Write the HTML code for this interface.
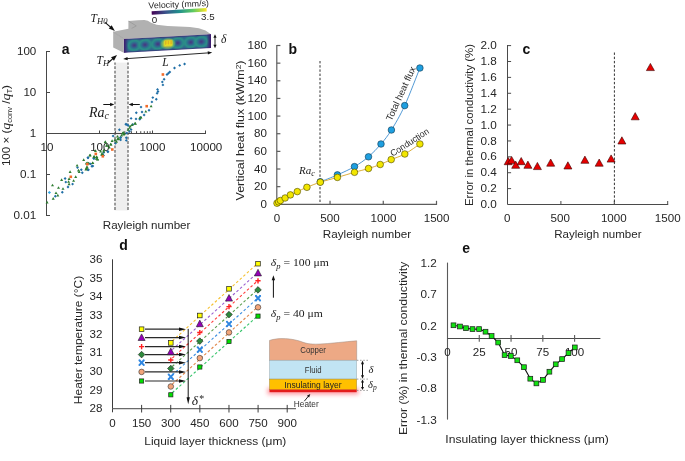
<!DOCTYPE html>
<html><head><meta charset="utf-8"><style>
html,body{margin:0;padding:0;background:#fff;}
svg{display:block;font-family:"Liberation Sans",sans-serif;will-change:transform;}
</style></head><body>
<svg width="685" height="461" viewBox="0 0 685 461">
<defs><radialGradient id="vc" cx="0.5" cy="0.5" r="0.5"><stop offset="0" stop-color="#482f7c"/><stop offset="0.18" stop-color="#3e4a89"/><stop offset="0.42" stop-color="#2c728e"/><stop offset="0.68" stop-color="#2a9486"/><stop offset="1" stop-color="#2f7a8c" stop-opacity="0"/></radialGradient><radialGradient id="vy" cx="0.5" cy="0.5" r="0.5"><stop offset="0" stop-color="#f8e620"/><stop offset="0.55" stop-color="#e8e22a"/><stop offset="0.8" stop-color="#7cc860" stop-opacity="0.8"/><stop offset="1" stop-color="#2a9a88" stop-opacity="0"/></radialGradient><filter id="vblur" x="-30%" y="-30%" width="160%" height="160%"><feGaussianBlur stdDeviation="0.6"/></filter><linearGradient id="vedge" x1="0" y1="0" x2="0" y2="1"><stop offset="0" stop-color="#40106a" stop-opacity="0.95"/><stop offset="0.18" stop-color="#40106a" stop-opacity="0"/><stop offset="0.82" stop-color="#40106a" stop-opacity="0"/><stop offset="1" stop-color="#40106a" stop-opacity="0.95"/></linearGradient><linearGradient id="vedgex" x1="0" y1="0" x2="1" y2="0"><stop offset="0" stop-color="#40106a" stop-opacity="0.95"/><stop offset="0.05" stop-color="#40106a" stop-opacity="0"/><stop offset="0.95" stop-color="#40106a" stop-opacity="0"/><stop offset="1" stop-color="#40106a" stop-opacity="0.95"/></linearGradient><clipPath id="ffclip"><polygon points="123.8,38.9 211.0,34.2 211.0,47.9 123.8,52.8"/></clipPath><linearGradient id="cb" x1="0" y1="0" x2="1" y2="0"><stop offset="0" stop-color="#440154"/><stop offset="0.25" stop-color="#3b528b"/><stop offset="0.5" stop-color="#21908d"/><stop offset="0.75" stop-color="#5dc963"/><stop offset="1" stop-color="#fde725"/></linearGradient><filter id="glow" x="-20%" y="-300%" width="140%" height="700%"><feGaussianBlur stdDeviation="2.0"/></filter></defs>
<rect width="685" height="461" fill="#fff"/>
<rect x="114.6" y="62.6" width="13.6" height="147.9" fill="#efefef"/>
<line x1="115.00" y1="62.60" x2="115.00" y2="210.50" stroke="#6a6a6a" stroke-width="1.3" stroke-dasharray="2.8,1.6" stroke-dashoffset="0.7"/>
<line x1="128.00" y1="62.60" x2="128.00" y2="210.50" stroke="#6a6a6a" stroke-width="1.3" stroke-dasharray="2.8,1.6" stroke-dashoffset="0.7"/>
<line x1="46.50" y1="51.00" x2="46.50" y2="216.00" stroke="#474747" stroke-width="1"/>
<line x1="46.00" y1="51.50" x2="50.00" y2="51.50" stroke="#474747" stroke-width="1"/>
<line x1="46.00" y1="92.50" x2="50.00" y2="92.50" stroke="#474747" stroke-width="1"/>
<line x1="46.00" y1="133.50" x2="50.00" y2="133.50" stroke="#474747" stroke-width="1"/>
<line x1="46.00" y1="174.50" x2="50.00" y2="174.50" stroke="#474747" stroke-width="1"/>
<line x1="46.00" y1="215.50" x2="50.00" y2="215.50" stroke="#474747" stroke-width="1"/>
<line x1="46.00" y1="133.50" x2="206.00" y2="133.50" stroke="#474747" stroke-width="1"/>
<line x1="99.50" y1="133.50" x2="99.50" y2="130.50" stroke="#474747" stroke-width="1"/>
<line x1="152.50" y1="133.50" x2="152.50" y2="130.50" stroke="#474747" stroke-width="1"/>
<line x1="205.50" y1="133.50" x2="205.50" y2="130.50" stroke="#474747" stroke-width="1"/>
<line x1="115.45" y1="133.50" x2="115.45" y2="131.20" stroke="#474747" stroke-width="1"/>
<line x1="124.79" y1="133.50" x2="124.79" y2="131.20" stroke="#474747" stroke-width="1"/>
<line x1="131.41" y1="133.50" x2="131.41" y2="131.20" stroke="#474747" stroke-width="1"/>
<line x1="136.55" y1="133.50" x2="136.55" y2="131.20" stroke="#474747" stroke-width="1"/>
<line x1="140.74" y1="133.50" x2="140.74" y2="131.20" stroke="#474747" stroke-width="1"/>
<line x1="144.29" y1="133.50" x2="144.29" y2="131.20" stroke="#474747" stroke-width="1"/>
<line x1="147.36" y1="133.50" x2="147.36" y2="131.20" stroke="#474747" stroke-width="1"/>
<line x1="150.07" y1="133.50" x2="150.07" y2="131.20" stroke="#474747" stroke-width="1"/>
<text x="36.30" y="55.25" font-size="10.6" text-anchor="end" fill="#262626" textLength="19.35" lengthAdjust="spacingAndGlyphs">100</text>
<text x="36.30" y="96.15" font-size="10.6" text-anchor="end" fill="#262626" textLength="12.90" lengthAdjust="spacingAndGlyphs">10</text>
<text x="36.30" y="137.05" font-size="10.6" text-anchor="end" fill="#262626" textLength="6.45" lengthAdjust="spacingAndGlyphs">1</text>
<text x="36.30" y="178.25" font-size="10.6" text-anchor="end" fill="#262626" textLength="16.30" lengthAdjust="spacingAndGlyphs">0.1</text>
<text x="36.30" y="219.15" font-size="10.6" text-anchor="end" fill="#262626" textLength="22.75" lengthAdjust="spacingAndGlyphs">0.01</text>
<text x="47.00" y="151.25" font-size="10.6" text-anchor="middle" fill="#262626" textLength="12.90" lengthAdjust="spacingAndGlyphs">10</text>
<text x="99.80" y="151.25" font-size="10.6" text-anchor="middle" fill="#262626" textLength="19.35" lengthAdjust="spacingAndGlyphs">100</text>
<text x="152.50" y="151.25" font-size="10.6" text-anchor="middle" fill="#262626" textLength="25.80" lengthAdjust="spacingAndGlyphs">1000</text>
<text x="206.20" y="151.25" font-size="10.6" text-anchor="middle" fill="#262626" textLength="32.25" lengthAdjust="spacingAndGlyphs">10000</text>
<text x="146.60" y="229.10" font-size="10.6" text-anchor="middle" fill="#262626" textLength="87.60" lengthAdjust="spacingAndGlyphs">Rayleigh number</text>
<text x="0" y="0" transform="translate(10.4,125.6) rotate(-90)" font-size="10.8" text-anchor="middle" fill="#262626" textLength="81" lengthAdjust="spacingAndGlyphs">100 × (<tspan font-family="Liberation Serif, serif" font-style="italic" font-size="13">q</tspan><tspan font-size="7" dy="1.8">conv</tspan><tspan dy="-1.8"> /</tspan><tspan font-family="Liberation Serif, serif" font-style="italic" font-size="13">q</tspan><tspan font-size="7" dy="1.8">T</tspan><tspan dy="-1.8">)</tspan></text>
<text x="65.60" y="53.90" font-size="14" text-anchor="middle" fill="#111" font-weight="bold">a</text>
<polygon points="184.60,62.55 186.05,64.00 184.60,65.45 183.15,64.00" fill="#1f6ea6" stroke="none" stroke-width="0.6"/>
<polygon points="179.70,63.95 181.15,65.40 179.70,66.85 178.25,65.40" fill="#1f6ea6" stroke="none" stroke-width="0.6"/>
<polygon points="174.50,66.55 175.95,68.00 174.50,69.45 173.05,68.00" fill="#1f6ea6" stroke="none" stroke-width="0.6"/>
<polygon points="169.80,70.55 171.25,72.00 169.80,73.45 168.35,72.00" fill="#1f6ea6" stroke="none" stroke-width="0.6"/>
<polygon points="168.40,71.75 169.85,73.20 168.40,74.65 166.95,73.20" fill="#1f6ea6" stroke="none" stroke-width="0.6"/>
<polygon points="167.00,73.05 168.45,74.50 167.00,75.95 165.55,74.50" fill="#1f6ea6" stroke="none" stroke-width="0.6"/>
<polygon points="164.10,77.85 165.55,79.30 164.10,80.75 162.65,79.30" fill="#1f6ea6" stroke="none" stroke-width="0.6"/>
<polygon points="162.30,80.45 163.75,81.90 162.30,83.35 160.85,81.90" fill="#1f6ea6" stroke="none" stroke-width="0.6"/>
<polygon points="162.90,83.45 164.35,84.90 162.90,86.35 161.45,84.90" fill="#1f6ea6" stroke="none" stroke-width="0.6"/>
<polygon points="157.50,87.95 158.95,89.40 157.50,90.85 156.05,89.40" fill="#1f6ea6" stroke="none" stroke-width="0.6"/>
<polygon points="158.00,90.05 159.45,91.50 158.00,92.95 156.55,91.50" fill="#1f6ea6" stroke="none" stroke-width="0.6"/>
<polygon points="157.10,91.75 158.55,93.20 157.10,94.65 155.65,93.20" fill="#1f6ea6" stroke="none" stroke-width="0.6"/>
<polygon points="152.80,96.15 154.25,97.60 152.80,99.05 151.35,97.60" fill="#1f6ea6" stroke="none" stroke-width="0.6"/>
<polygon points="156.30,97.85 157.75,99.30 156.30,100.75 154.85,99.30" fill="#1f6ea6" stroke="none" stroke-width="0.6"/>
<polygon points="151.90,100.45 153.35,101.90 151.90,103.35 150.45,101.90" fill="#1f6ea6" stroke="none" stroke-width="0.6"/>
<polygon points="141.00,105.65 142.45,107.10 141.00,108.55 139.55,107.10" fill="#1f6ea6" stroke="none" stroke-width="0.6"/>
<polygon points="149.00,108.75 150.45,110.20 149.00,111.65 147.55,110.20" fill="#1f6ea6" stroke="none" stroke-width="0.6"/>
<polygon points="142.00,110.55 143.45,112.00 142.00,113.45 140.55,112.00" fill="#1f6ea6" stroke="none" stroke-width="0.6"/>
<polygon points="136.30,111.25 137.75,112.70 136.30,114.15 134.85,112.70" fill="#1f6ea6" stroke="none" stroke-width="0.6"/>
<polygon points="144.10,113.55 145.55,115.00 144.10,116.45 142.65,115.00" fill="#1f6ea6" stroke="none" stroke-width="0.6"/>
<polygon points="139.80,117.85 141.25,119.30 139.80,120.75 138.35,119.30" fill="#1f6ea6" stroke="none" stroke-width="0.6"/>
<polygon points="131.10,116.95 132.55,118.40 131.10,119.85 129.65,118.40" fill="#1f6ea6" stroke="none" stroke-width="0.6"/>
<polygon points="132.80,123.05 134.25,124.50 132.80,125.95 131.35,124.50" fill="#1f6ea6" stroke="none" stroke-width="0.6"/>
<polygon points="126.70,123.05 128.15,124.50 126.70,125.95 125.25,124.50" fill="#1f6ea6" stroke="none" stroke-width="0.6"/>
<polygon points="136.00,117.45 137.45,118.90 136.00,120.35 134.55,118.90" fill="#1f6ea6" stroke="none" stroke-width="0.6"/>
<polygon points="140.70,115.95 142.15,117.40 140.70,118.85 139.25,117.40" fill="#1f6ea6" stroke="none" stroke-width="0.6"/>
<polygon points="125.80,122.85 127.25,124.30 125.80,125.75 124.35,124.30" fill="#1f6ea6" stroke="none" stroke-width="0.6"/>
<polygon points="128.20,124.05 129.65,125.50 128.20,126.95 126.75,125.50" fill="#1f6ea6" stroke="none" stroke-width="0.6"/>
<polygon points="131.10,128.15 132.55,129.60 131.10,131.05 129.65,129.60" fill="#1f6ea6" stroke="none" stroke-width="0.6"/>
<polygon points="119.40,128.35 120.85,129.80 119.40,131.25 117.95,129.80" fill="#1f6ea6" stroke="none" stroke-width="0.6"/>
<polygon points="126.70,131.65 128.15,133.10 126.70,134.55 125.25,133.10" fill="#1f6ea6" stroke="none" stroke-width="0.6"/>
<polygon points="113.10,134.55 114.55,136.00 113.10,137.45 111.65,136.00" fill="#1f6ea6" stroke="none" stroke-width="0.6"/>
<polygon points="120.60,136.25 122.05,137.70 120.60,139.15 119.15,137.70" fill="#1f6ea6" stroke="none" stroke-width="0.6"/>
<polygon points="120.60,138.45 122.05,139.90 120.60,141.35 119.15,139.90" fill="#1f6ea6" stroke="none" stroke-width="0.6"/>
<polygon points="115.50,141.85 116.95,143.30 115.50,144.75 114.05,143.30" fill="#1f6ea6" stroke="none" stroke-width="0.6"/>
<polygon points="107.70,150.15 109.15,151.60 107.70,153.05 106.25,151.60" fill="#1f6ea6" stroke="none" stroke-width="0.6"/>
<polygon points="108.00,150.25 109.45,151.70 108.00,153.15 106.55,151.70" fill="#1f6ea6" stroke="none" stroke-width="0.6"/>
<polygon points="103.70,151.15 105.15,152.60 103.70,154.05 102.25,152.60" fill="#1f6ea6" stroke="none" stroke-width="0.6"/>
<polygon points="103.40,153.95 104.85,155.40 103.40,156.85 101.95,155.40" fill="#1f6ea6" stroke="none" stroke-width="0.6"/>
<polygon points="93.70,156.75 95.15,158.20 93.70,159.65 92.25,158.20" fill="#1f6ea6" stroke="none" stroke-width="0.6"/>
<polygon points="88.00,156.35 89.45,157.80 88.00,159.25 86.55,157.80" fill="#1f6ea6" stroke="none" stroke-width="0.6"/>
<polygon points="90.60,162.45 92.05,163.90 90.60,165.35 89.15,163.90" fill="#1f6ea6" stroke="none" stroke-width="0.6"/>
<polygon points="92.80,164.55 94.25,166.00 92.80,167.45 91.35,166.00" fill="#1f6ea6" stroke="none" stroke-width="0.6"/>
<polygon points="88.00,168.45 89.45,169.90 88.00,171.35 86.55,169.90" fill="#1f6ea6" stroke="none" stroke-width="0.6"/>
<polygon points="103.20,154.15 104.65,155.60 103.20,157.05 101.75,155.60" fill="#1f6ea6" stroke="none" stroke-width="0.6"/>
<polygon points="94.00,157.05 95.45,158.50 94.00,159.95 92.55,158.50" fill="#1f6ea6" stroke="none" stroke-width="0.6"/>
<polygon points="88.80,161.95 90.25,163.40 88.80,164.85 87.35,163.40" fill="#1f6ea6" stroke="none" stroke-width="0.6"/>
<polygon points="88.40,168.25 89.85,169.70 88.40,171.15 86.95,169.70" fill="#1f6ea6" stroke="none" stroke-width="0.6"/>
<polygon points="91.90,164.75 93.35,166.20 91.90,167.65 90.45,166.20" fill="#1f6ea6" stroke="none" stroke-width="0.6"/>
<polygon points="81.30,168.25 82.75,169.70 81.30,171.15 79.85,169.70" fill="#1f6ea6" stroke="none" stroke-width="0.6"/>
<polygon points="82.30,171.35 83.75,172.80 82.30,174.25 80.85,172.80" fill="#1f6ea6" stroke="none" stroke-width="0.6"/>
<polygon points="77.50,166.15 78.95,167.60 77.50,169.05 76.05,167.60" fill="#1f6ea6" stroke="none" stroke-width="0.6"/>
<polygon points="72.60,182.65 74.05,184.10 72.60,185.55 71.15,184.10" fill="#1f6ea6" stroke="none" stroke-width="0.6"/>
<polygon points="68.00,185.55 69.45,187.00 68.00,188.45 66.55,187.00" fill="#1f6ea6" stroke="none" stroke-width="0.6"/>
<polygon points="65.10,177.05 66.55,178.50 65.10,179.95 63.65,178.50" fill="#1f6ea6" stroke="none" stroke-width="0.6"/>
<polygon points="65.80,180.65 67.25,182.10 65.80,183.55 64.35,182.10" fill="#1f6ea6" stroke="none" stroke-width="0.6"/>
<polygon points="62.30,190.85 63.75,192.30 62.30,193.75 60.85,192.30" fill="#1f6ea6" stroke="none" stroke-width="0.6"/>
<polygon points="55.30,194.75 56.75,196.20 55.30,197.65 53.85,196.20" fill="#1f6ea6" stroke="none" stroke-width="0.6"/>
<polygon points="88.00,156.25 89.45,157.70 88.00,159.15 86.55,157.70" fill="#1f6ea6" stroke="none" stroke-width="0.6"/>
<polygon points="120.60,135.95 122.05,137.40 120.60,138.85 119.15,137.40" fill="#1f6ea6" stroke="none" stroke-width="0.6"/>
<polygon points="126.30,136.25 127.75,137.70 126.30,139.15 124.85,137.70" fill="#1f6ea6" stroke="none" stroke-width="0.6"/>
<polygon points="126.30,138.95 127.75,140.40 126.30,141.85 124.85,140.40" fill="#1f6ea6" stroke="none" stroke-width="0.6"/>
<polygon points="129.50,130.05 130.95,131.50 129.50,132.95 128.05,131.50" fill="#1f6ea6" stroke="none" stroke-width="0.6"/>
<polygon points="151.10,104.65 152.60,107.30 149.60,107.30" fill="#2e7d32" stroke="none" stroke-width="0.6"/>
<polygon points="145.80,109.95 147.30,112.60 144.30,112.60" fill="#2e7d32" stroke="none" stroke-width="0.6"/>
<polygon points="141.00,115.95 142.50,118.60 139.50,118.60" fill="#2e7d32" stroke="none" stroke-width="0.6"/>
<polygon points="135.40,122.05 136.90,124.70 133.90,124.70" fill="#2e7d32" stroke="none" stroke-width="0.6"/>
<polygon points="130.20,124.65 131.70,127.30 128.70,127.30" fill="#2e7d32" stroke="none" stroke-width="0.6"/>
<polygon points="139.90,116.35 141.40,119.00 138.40,119.00" fill="#2e7d32" stroke="none" stroke-width="0.6"/>
<polygon points="135.00,121.75 136.50,124.40 133.50,124.40" fill="#2e7d32" stroke="none" stroke-width="0.6"/>
<polygon points="132.10,123.25 133.60,125.90 130.60,125.90" fill="#2e7d32" stroke="none" stroke-width="0.6"/>
<polygon points="129.70,126.15 131.20,128.80 128.20,128.80" fill="#2e7d32" stroke="none" stroke-width="0.6"/>
<polygon points="128.20,128.05 129.70,130.70 126.70,130.70" fill="#2e7d32" stroke="none" stroke-width="0.6"/>
<polygon points="123.30,131.05 124.80,133.70 121.80,133.70" fill="#2e7d32" stroke="none" stroke-width="0.6"/>
<polygon points="124.30,132.45 125.80,135.10 122.80,135.10" fill="#2e7d32" stroke="none" stroke-width="0.6"/>
<polygon points="117.50,134.95 119.00,137.60 116.00,137.60" fill="#2e7d32" stroke="none" stroke-width="0.6"/>
<polygon points="118.00,137.35 119.50,140.00 116.50,140.00" fill="#2e7d32" stroke="none" stroke-width="0.6"/>
<polygon points="115.00,138.35 116.50,141.00 113.50,141.00" fill="#2e7d32" stroke="none" stroke-width="0.6"/>
<polygon points="112.10,139.35 113.60,142.00 110.60,142.00" fill="#2e7d32" stroke="none" stroke-width="0.6"/>
<polygon points="110.60,142.75 112.10,145.40 109.10,145.40" fill="#2e7d32" stroke="none" stroke-width="0.6"/>
<polygon points="105.30,140.35 106.80,143.00 103.80,143.00" fill="#2e7d32" stroke="none" stroke-width="0.6"/>
<polygon points="106.70,143.75 108.20,146.40 105.20,146.40" fill="#2e7d32" stroke="none" stroke-width="0.6"/>
<polygon points="103.80,148.65 105.30,151.30 102.30,151.30" fill="#2e7d32" stroke="none" stroke-width="0.6"/>
<polygon points="101.80,152.55 103.30,155.20 100.30,155.20" fill="#2e7d32" stroke="none" stroke-width="0.6"/>
<polygon points="96.50,155.45 98.00,158.10 95.00,158.10" fill="#2e7d32" stroke="none" stroke-width="0.6"/>
<polygon points="105.40,140.65 106.90,143.30 103.90,143.30" fill="#2e7d32" stroke="none" stroke-width="0.6"/>
<polygon points="111.00,142.75 112.50,145.40 109.50,145.40" fill="#2e7d32" stroke="none" stroke-width="0.6"/>
<polygon points="109.30,145.85 110.80,148.50 107.80,148.50" fill="#2e7d32" stroke="none" stroke-width="0.6"/>
<polygon points="106.70,144.05 108.20,146.70 105.20,146.70" fill="#2e7d32" stroke="none" stroke-width="0.6"/>
<polygon points="103.70,149.75 105.20,152.40 102.20,152.40" fill="#2e7d32" stroke="none" stroke-width="0.6"/>
<polygon points="100.60,149.75 102.10,152.40 99.10,152.40" fill="#2e7d32" stroke="none" stroke-width="0.6"/>
<polygon points="101.90,153.25 103.40,155.90 100.40,155.90" fill="#2e7d32" stroke="none" stroke-width="0.6"/>
<polygon points="95.40,149.25 96.90,151.90 93.90,151.90" fill="#2e7d32" stroke="none" stroke-width="0.6"/>
<polygon points="90.20,153.65 91.70,156.30 88.70,156.30" fill="#2e7d32" stroke="none" stroke-width="0.6"/>
<polygon points="94.10,154.95 95.60,157.60 92.60,157.60" fill="#2e7d32" stroke="none" stroke-width="0.6"/>
<polygon points="96.30,157.15 97.80,159.80 94.80,159.80" fill="#2e7d32" stroke="none" stroke-width="0.6"/>
<polygon points="97.60,157.95 99.10,160.60 96.10,160.60" fill="#2e7d32" stroke="none" stroke-width="0.6"/>
<polygon points="87.20,161.45 88.70,164.10 85.70,164.10" fill="#2e7d32" stroke="none" stroke-width="0.6"/>
<polygon points="88.50,161.85 90.00,164.50 87.00,164.50" fill="#2e7d32" stroke="none" stroke-width="0.6"/>
<polygon points="92.80,161.45 94.30,164.10 91.30,164.10" fill="#2e7d32" stroke="none" stroke-width="0.6"/>
<polygon points="86.70,166.25 88.20,168.90 85.20,168.90" fill="#2e7d32" stroke="none" stroke-width="0.6"/>
<polygon points="85.90,167.95 87.40,170.60 84.40,170.60" fill="#2e7d32" stroke="none" stroke-width="0.6"/>
<polygon points="102.50,152.65 104.00,155.30 101.00,155.30" fill="#2e7d32" stroke="none" stroke-width="0.6"/>
<polygon points="96.80,155.45 98.30,158.10 95.30,158.10" fill="#2e7d32" stroke="none" stroke-width="0.6"/>
<polygon points="97.50,157.65 99.00,160.30 96.00,160.30" fill="#2e7d32" stroke="none" stroke-width="0.6"/>
<polygon points="94.00,155.25 95.50,157.90 92.50,157.90" fill="#2e7d32" stroke="none" stroke-width="0.6"/>
<polygon points="89.80,153.85 91.30,156.50 88.30,156.50" fill="#2e7d32" stroke="none" stroke-width="0.6"/>
<polygon points="92.60,161.45 94.10,164.10 91.10,164.10" fill="#2e7d32" stroke="none" stroke-width="0.6"/>
<polygon points="87.00,165.35 88.50,168.00 85.50,168.00" fill="#2e7d32" stroke="none" stroke-width="0.6"/>
<polygon points="86.30,167.45 87.80,170.10 84.80,170.10" fill="#2e7d32" stroke="none" stroke-width="0.6"/>
<polygon points="86.30,161.85 87.80,164.50 84.80,164.50" fill="#2e7d32" stroke="none" stroke-width="0.6"/>
<polygon points="83.70,158.35 85.20,161.00 82.20,161.00" fill="#2e7d32" stroke="none" stroke-width="0.6"/>
<polygon points="79.20,170.25 80.70,172.90 77.70,172.90" fill="#2e7d32" stroke="none" stroke-width="0.6"/>
<polygon points="78.50,168.85 80.00,171.50 77.00,171.50" fill="#2e7d32" stroke="none" stroke-width="0.6"/>
<polygon points="77.10,163.95 78.60,166.60 75.60,166.60" fill="#2e7d32" stroke="none" stroke-width="0.6"/>
<polygon points="70.10,170.25 71.60,172.90 68.60,172.90" fill="#2e7d32" stroke="none" stroke-width="0.6"/>
<polygon points="75.70,175.25 77.20,177.90 74.20,177.90" fill="#2e7d32" stroke="none" stroke-width="0.6"/>
<polygon points="73.60,179.15 75.10,181.80 72.10,181.80" fill="#2e7d32" stroke="none" stroke-width="0.6"/>
<polygon points="69.10,177.35 70.60,180.00 67.60,180.00" fill="#2e7d32" stroke="none" stroke-width="0.6"/>
<polygon points="68.60,180.15 70.10,182.80 67.10,182.80" fill="#2e7d32" stroke="none" stroke-width="0.6"/>
<polygon points="69.10,182.55 70.60,185.20 67.60,185.20" fill="#2e7d32" stroke="none" stroke-width="0.6"/>
<polygon points="61.60,178.35 63.10,181.00 60.10,181.00" fill="#2e7d32" stroke="none" stroke-width="0.6"/>
<polygon points="63.00,187.15 64.50,189.80 61.50,189.80" fill="#2e7d32" stroke="none" stroke-width="0.6"/>
<polygon points="58.50,186.15 60.00,188.80 57.00,188.80" fill="#2e7d32" stroke="none" stroke-width="0.6"/>
<polygon points="57.80,193.85 59.30,196.50 56.30,196.50" fill="#2e7d32" stroke="none" stroke-width="0.6"/>
<polygon points="56.00,191.45 57.50,194.10 54.50,194.10" fill="#2e7d32" stroke="none" stroke-width="0.6"/>
<polygon points="53.20,197.05 54.70,199.70 51.70,199.70" fill="#2e7d32" stroke="none" stroke-width="0.6"/>
<polygon points="52.50,183.65 54.00,186.30 51.00,186.30" fill="#2e7d32" stroke="none" stroke-width="0.6"/>
<polygon points="47.10,200.85 48.60,203.50 45.60,203.50" fill="#2e7d32" stroke="none" stroke-width="0.6"/>
<polygon points="122.60,131.85 124.10,134.50 121.10,134.50" fill="#2e7d32" stroke="none" stroke-width="0.6"/>
<polygon points="123.60,132.75 125.10,135.40 122.10,135.40" fill="#2e7d32" stroke="none" stroke-width="0.6"/>
<polygon points="117.70,137.65 119.20,140.30 116.20,140.30" fill="#2e7d32" stroke="none" stroke-width="0.6"/>
<polygon points="118.80,137.05 120.30,139.70 117.30,139.70" fill="#2e7d32" stroke="none" stroke-width="0.6"/>
<polygon points="116.50,140.05 118.00,142.70 115.00,142.70" fill="#2e7d32" stroke="none" stroke-width="0.6"/>
<polygon points="121.50,133.95 123.00,136.60 120.00,136.60" fill="#2e7d32" stroke="none" stroke-width="0.6"/>
<rect x="161.60" y="73.20" width="2.6" height="2.6" fill="#f26b2a"/>
<rect x="145.40" y="104.90" width="2.6" height="2.6" fill="#f26b2a"/>
<rect x="111.00" y="148.20" width="2.6" height="2.6" fill="#f26b2a"/>
<rect x="94.50" y="152.60" width="2.6" height="2.6" fill="#f26b2a"/>
<rect x="101.50" y="155.00" width="2.6" height="2.6" fill="#f26b2a"/>
<rect x="86.00" y="162.90" width="2.6" height="2.6" fill="#f26b2a"/>
<rect x="69.50" y="175.50" width="2.6" height="2.6" fill="#f26b2a"/>
<polygon points="49.40,190.90 51.00,192.50 49.40,194.10 47.80,192.50" fill="#2ea6e6" stroke="none" stroke-width="0.6"/>
<line x1="103.30" y1="104.50" x2="110.94" y2="104.50" stroke="#111" stroke-width="1"/>
<polygon points="114.30,104.50 110.10,106.20 110.10,102.80" fill="#111" stroke="none" stroke-width="0.6"/>
<line x1="139.80" y1="104.50" x2="131.96" y2="104.50" stroke="#111" stroke-width="1"/>
<polygon points="128.60,104.50 132.80,102.80 132.80,106.20" fill="#111" stroke="none" stroke-width="0.6"/>
<text x="89.0" y="116.7" font-family="Liberation Serif, serif" font-style="italic" font-size="14" fill="#1a1a1a">Ra<tspan font-size="10" dy="2.3">c</tspan></text>
<polygon points="113.20,31.80 128.40,28.80 128.40,21.00 138.00,20.20 144.40,20.00 147.80,20.80 151.10,22.80 156.60,24.80 167.70,25.90 178.80,26.40 189.90,27.10 198.80,28.20 205.50,30.60 211.00,34.20 123.80,38.90" fill="#b1b1b1" stroke="none" stroke-width="0.6"/>
<polygon points="113.20,31.80 123.80,38.90 123.80,52.80 113.20,47.50" fill="#b1b1b1" stroke="none" stroke-width="0.6"/>
<path d="M113.2,31.8 L123.8,38.9 M128.4,21.0 L136.3,25.9 L131.6,28.4" fill="none" stroke="#8a8a8a" stroke-width="0.5"/>
<g clip-path="url(#ffclip)"><polygon points="123.8,38.9 211.0,34.2 211.0,47.9 123.8,52.8" fill="#2e648c"/><g transform="translate(123.8,38.9) skewY(-3.08)"><ellipse cx="10.5" cy="7.0" rx="8.6" ry="7.2" fill="url(#vc)" filter="url(#vblur)"/><ellipse cx="21.2" cy="7.0" rx="8.6" ry="7.2" fill="url(#vc)" filter="url(#vblur)"/><ellipse cx="34.0" cy="7.0" rx="8.6" ry="7.2" fill="url(#vc)" filter="url(#vblur)"/><ellipse cx="54.0" cy="7.0" rx="8.6" ry="7.2" fill="url(#vc)" filter="url(#vblur)"/><ellipse cx="67.0" cy="7.0" rx="8.6" ry="7.2" fill="url(#vc)" filter="url(#vblur)"/><ellipse cx="77.5" cy="7.0" rx="8.6" ry="7.2" fill="url(#vc)" filter="url(#vblur)"/><ellipse cx="44.0" cy="7.2" rx="8.5" ry="6.4" fill="url(#vy)" opacity="0.55"/><rect x="40.3" y="3.6" width="8.2" height="6.0" fill="#f0e21e" filter="url(#vblur)"/><rect x="41.2" y="4.2" width="0.7" height="3.8" fill="#d09a28" opacity="0.9"/><rect x="42.8" y="4.2" width="0.7" height="3.8" fill="#d09a28" opacity="0.9"/><rect x="44.4" y="4.2" width="0.7" height="3.8" fill="#d09a28" opacity="0.9"/><rect x="46.0" y="4.2" width="0.7" height="3.8" fill="#d09a28" opacity="0.9"/><rect x="47.6" y="4.2" width="0.7" height="3.8" fill="#d09a28" opacity="0.9"/><rect x="0" y="-1" width="87.2" height="16" fill="url(#vedge)"/><rect x="0" y="-1" width="87.2" height="16" fill="url(#vedgex)"/></g></g>
<g transform="translate(151.6,11.3) rotate(-3.4)"><rect x="0" y="0" width="55" height="3.4" fill="url(#cb)"/></g>
<text x="0" y="0" transform="translate(148.6,8.6) rotate(-2.6)" font-size="8.6" fill="#262626" textLength="60.5" lengthAdjust="spacingAndGlyphs">Velocity (mm/s)</text>
<text x="154.40" y="22.80" font-size="9.5" text-anchor="middle" fill="#262626" textLength="5.50" lengthAdjust="spacingAndGlyphs">0</text>
<text x="207.80" y="19.60" font-size="9.5" text-anchor="middle" fill="#262626" textLength="13.50" lengthAdjust="spacingAndGlyphs">3.5</text>
<text x="90.6" y="21.8" font-family="Liberation Serif, serif" font-style="italic" font-size="11.5" fill="#1a1a1a">T<tspan font-size="8.6" dy="1.9">H0</tspan></text>
<line x1="105.00" y1="22.30" x2="111.16" y2="27.65" stroke="#111" stroke-width="1.1"/>
<polygon points="114.90,30.90 108.78,28.49 111.66,25.17" fill="#111" stroke="none" stroke-width="0.6"/>
<text x="96.6" y="63.6" font-family="Liberation Serif, serif" font-style="italic" font-size="11.5" fill="#1a1a1a">T<tspan font-size="8.6" dy="2.1">H</tspan></text>
<line x1="108.00" y1="63.00" x2="113.41" y2="58.19" stroke="#111" stroke-width="1.1"/>
<polygon points="117.00,55.00 113.98,60.63 111.05,57.34" fill="#111" stroke="none" stroke-width="0.6"/>
<line x1="126.71" y1="58.65" x2="208.69" y2="52.85" stroke="#111" stroke-width="0.9"/>
<polygon points="212.20,52.60 207.92,54.51 207.70,51.31" fill="#111" stroke="none" stroke-width="0.6"/>
<polygon points="123.20,58.90 127.48,56.99 127.70,60.19" fill="#111" stroke="none" stroke-width="0.6"/>
<text x="165.4" y="65.6" font-family="Liberation Serif, serif" font-style="italic" font-size="11.5" text-anchor="middle" fill="#1a1a1a">L</text>
<line x1="215.00" y1="37.08" x2="215.00" y2="45.42" stroke="#111" stroke-width="0.9"/>
<polygon points="215.00,48.30 213.40,44.70 216.60,44.70" fill="#111" stroke="none" stroke-width="0.6"/>
<polygon points="215.00,34.20 216.60,37.80 213.40,37.80" fill="#111" stroke="none" stroke-width="0.6"/>
<text x="223.6" y="43.2" font-family="Liberation Serif, serif" font-style="italic" font-size="11.5" text-anchor="middle" fill="#1a1a1a">δ</text>
<line x1="276.80" y1="45.00" x2="276.80" y2="204.30" stroke="#5c5c5c" stroke-width="1.2"/>
<line x1="276.80" y1="204.30" x2="437.10" y2="204.30" stroke="#5c5c5c" stroke-width="1.2"/>
<text x="266.90" y="207.95" font-size="10.6" text-anchor="end" fill="#262626" textLength="6.45" lengthAdjust="spacingAndGlyphs">0</text>
<line x1="276.80" y1="186.66" x2="280.40" y2="186.66" stroke="#5c5c5c" stroke-width="1.2"/>
<text x="266.90" y="190.30" font-size="10.6" text-anchor="end" fill="#262626" textLength="12.90" lengthAdjust="spacingAndGlyphs">20</text>
<line x1="276.80" y1="169.01" x2="280.40" y2="169.01" stroke="#5c5c5c" stroke-width="1.2"/>
<text x="266.90" y="172.66" font-size="10.6" text-anchor="end" fill="#262626" textLength="12.90" lengthAdjust="spacingAndGlyphs">40</text>
<line x1="276.80" y1="151.37" x2="280.40" y2="151.37" stroke="#5c5c5c" stroke-width="1.2"/>
<text x="266.90" y="155.01" font-size="10.6" text-anchor="end" fill="#262626" textLength="12.90" lengthAdjust="spacingAndGlyphs">60</text>
<line x1="276.80" y1="133.72" x2="280.40" y2="133.72" stroke="#5c5c5c" stroke-width="1.2"/>
<text x="266.90" y="137.37" font-size="10.6" text-anchor="end" fill="#262626" textLength="12.90" lengthAdjust="spacingAndGlyphs">80</text>
<line x1="276.80" y1="116.08" x2="280.40" y2="116.08" stroke="#5c5c5c" stroke-width="1.2"/>
<text x="266.90" y="119.73" font-size="10.6" text-anchor="end" fill="#262626" textLength="19.35" lengthAdjust="spacingAndGlyphs">100</text>
<line x1="276.80" y1="98.44" x2="280.40" y2="98.44" stroke="#5c5c5c" stroke-width="1.2"/>
<text x="266.90" y="102.08" font-size="10.6" text-anchor="end" fill="#262626" textLength="19.35" lengthAdjust="spacingAndGlyphs">120</text>
<line x1="276.80" y1="80.79" x2="280.40" y2="80.79" stroke="#5c5c5c" stroke-width="1.2"/>
<text x="266.90" y="84.44" font-size="10.6" text-anchor="end" fill="#262626" textLength="19.35" lengthAdjust="spacingAndGlyphs">140</text>
<line x1="276.80" y1="63.15" x2="280.40" y2="63.15" stroke="#5c5c5c" stroke-width="1.2"/>
<text x="266.90" y="66.79" font-size="10.6" text-anchor="end" fill="#262626" textLength="19.35" lengthAdjust="spacingAndGlyphs">160</text>
<line x1="276.80" y1="45.50" x2="280.40" y2="45.50" stroke="#5c5c5c" stroke-width="1.2"/>
<text x="266.90" y="49.15" font-size="10.6" text-anchor="end" fill="#262626" textLength="19.35" lengthAdjust="spacingAndGlyphs">180</text>
<line x1="330.04" y1="204.30" x2="330.04" y2="200.80" stroke="#5c5c5c" stroke-width="1.2"/>
<line x1="383.27" y1="204.30" x2="383.27" y2="200.80" stroke="#5c5c5c" stroke-width="1.2"/>
<line x1="436.50" y1="204.30" x2="436.50" y2="200.80" stroke="#5c5c5c" stroke-width="1.2"/>
<text x="276.90" y="221.95" font-size="10.6" text-anchor="middle" fill="#262626" textLength="6.45" lengthAdjust="spacingAndGlyphs">0</text>
<text x="330.00" y="221.95" font-size="10.6" text-anchor="middle" fill="#262626" textLength="19.35" lengthAdjust="spacingAndGlyphs">500</text>
<text x="383.50" y="221.95" font-size="10.6" text-anchor="middle" fill="#262626" textLength="25.80" lengthAdjust="spacingAndGlyphs">1000</text>
<text x="436.60" y="221.95" font-size="10.6" text-anchor="middle" fill="#262626" textLength="25.80" lengthAdjust="spacingAndGlyphs">1500</text>
<text x="367.00" y="238.20" font-size="10.6" text-anchor="middle" fill="#262626" textLength="88.40" lengthAdjust="spacingAndGlyphs">Rayleigh number</text>
<text x="0" y="0" transform="translate(244.0,130.5) rotate(-90)" font-size="10.6" text-anchor="middle" fill="#262626" textLength="140" lengthAdjust="spacingAndGlyphs">Vertical heat flux  (kW/m<tspan font-size="7" dy="-3.5">2</tspan><tspan dy="3.5">)</tspan></text>
<text x="292.90" y="54.00" font-size="14" text-anchor="middle" fill="#111" font-weight="bold">b</text>
<line x1="320.00" y1="61.00" x2="320.00" y2="203.50" stroke="#333" stroke-width="1" stroke-dasharray="2.4,1.8"/>
<text x="299.0" y="173.6" font-family="Liberation Serif, serif" font-style="italic" font-size="11" fill="#1a1a1a">Ra<tspan font-size="8" dy="2">c</tspan></text>
<path d="M320.30,181.80 C323.15,180.65 331.70,177.43 337.40,174.90 C343.10,172.37 349.32,169.62 354.50,166.60 C359.68,163.58 364.08,160.57 368.50,156.80 C372.92,153.03 377.18,148.47 381.00,144.00 C384.82,139.53 387.45,136.40 391.40,130.00 C395.35,123.60 399.95,115.93 404.70,105.60 C409.45,95.27 417.37,74.27 419.90,68.00" fill="none" stroke="#3f8fd0" stroke-width="0.9"/>
<path d="M277.00,203.20 C277.27,202.98 278.03,202.35 278.60,201.90 C279.17,201.45 279.32,201.15 280.40,200.50 C281.48,199.85 283.43,198.93 285.10,198.00 C286.77,197.07 288.37,195.97 290.40,194.90 C292.43,193.83 294.55,192.87 297.30,191.60 C300.05,190.33 303.07,188.87 306.90,187.30 C310.73,185.73 315.22,183.85 320.30,182.20 C325.38,180.55 331.70,179.05 337.40,177.40 C343.10,175.75 349.32,173.78 354.50,172.30 C359.68,170.82 364.22,169.80 368.50,168.50 C372.78,167.20 376.42,165.98 380.20,164.50 C383.98,163.02 387.10,161.35 391.20,159.60 C395.30,157.85 400.02,156.60 404.80,154.00 C409.58,151.40 417.38,145.67 419.90,144.00" fill="none" stroke="#d6a426" stroke-width="0.9"/>
<circle cx="320.3" cy="181.8" r="3.3" fill="#1e9fe0" stroke="#10384f" stroke-width="0.6"/>
<circle cx="337.4" cy="174.9" r="3.3" fill="#1e9fe0" stroke="#10384f" stroke-width="0.6"/>
<circle cx="354.5" cy="166.6" r="3.3" fill="#1e9fe0" stroke="#10384f" stroke-width="0.6"/>
<circle cx="368.5" cy="156.8" r="3.3" fill="#1e9fe0" stroke="#10384f" stroke-width="0.6"/>
<circle cx="381.0" cy="144.0" r="3.3" fill="#1e9fe0" stroke="#10384f" stroke-width="0.6"/>
<circle cx="391.4" cy="130.0" r="3.3" fill="#1e9fe0" stroke="#10384f" stroke-width="0.6"/>
<circle cx="404.7" cy="105.6" r="3.3" fill="#1e9fe0" stroke="#10384f" stroke-width="0.6"/>
<circle cx="419.9" cy="68.0" r="3.3" fill="#1e9fe0" stroke="#10384f" stroke-width="0.6"/>
<circle cx="277.0" cy="203.2" r="3.3" fill="#f2e600" stroke="#4a4400" stroke-width="0.6"/>
<circle cx="278.6" cy="201.9" r="3.3" fill="#f2e600" stroke="#4a4400" stroke-width="0.6"/>
<circle cx="280.4" cy="200.5" r="3.3" fill="#f2e600" stroke="#4a4400" stroke-width="0.6"/>
<circle cx="285.1" cy="198.0" r="3.3" fill="#f2e600" stroke="#4a4400" stroke-width="0.6"/>
<circle cx="290.4" cy="194.9" r="3.3" fill="#f2e600" stroke="#4a4400" stroke-width="0.6"/>
<circle cx="297.3" cy="191.6" r="3.3" fill="#f2e600" stroke="#4a4400" stroke-width="0.6"/>
<circle cx="306.9" cy="187.3" r="3.3" fill="#f2e600" stroke="#4a4400" stroke-width="0.6"/>
<circle cx="320.3" cy="182.2" r="3.3" fill="#f2e600" stroke="#4a4400" stroke-width="0.6"/>
<circle cx="337.4" cy="177.4" r="3.3" fill="#f2e600" stroke="#4a4400" stroke-width="0.6"/>
<circle cx="354.5" cy="172.3" r="3.3" fill="#f2e600" stroke="#4a4400" stroke-width="0.6"/>
<circle cx="368.5" cy="168.5" r="3.3" fill="#f2e600" stroke="#4a4400" stroke-width="0.6"/>
<circle cx="380.2" cy="164.5" r="3.3" fill="#f2e600" stroke="#4a4400" stroke-width="0.6"/>
<circle cx="391.2" cy="159.6" r="3.3" fill="#f2e600" stroke="#4a4400" stroke-width="0.6"/>
<circle cx="404.8" cy="154.0" r="3.3" fill="#f2e600" stroke="#4a4400" stroke-width="0.6"/>
<circle cx="419.9" cy="144.0" r="3.3" fill="#f2e600" stroke="#4a4400" stroke-width="0.6"/>
<text x="0" y="0" transform="translate(391.6,121.6) rotate(-65.5)" font-size="9.4" fill="#262626" textLength="58.5" lengthAdjust="spacingAndGlyphs">Total heat flux</text>
<text x="0" y="0" transform="translate(392.8,156.8) rotate(-33)" font-size="9" fill="#262626" textLength="44" lengthAdjust="spacingAndGlyphs">Conduction</text>
<line x1="507.50" y1="45.00" x2="507.50" y2="204.50" stroke="#4a4a4a" stroke-width="1"/>
<line x1="507.50" y1="204.50" x2="668.20" y2="204.50" stroke="#4a4a4a" stroke-width="1"/>
<text x="496.90" y="208.15" font-size="10.6" text-anchor="end" fill="#262626" textLength="16.30" lengthAdjust="spacingAndGlyphs">0.0</text>
<line x1="507.50" y1="188.61" x2="511.10" y2="188.61" stroke="#4a4a4a" stroke-width="1"/>
<text x="496.90" y="192.26" font-size="10.6" text-anchor="end" fill="#262626" textLength="16.30" lengthAdjust="spacingAndGlyphs">0.2</text>
<line x1="507.50" y1="172.72" x2="511.10" y2="172.72" stroke="#4a4a4a" stroke-width="1"/>
<text x="496.90" y="176.37" font-size="10.6" text-anchor="end" fill="#262626" textLength="16.30" lengthAdjust="spacingAndGlyphs">0.4</text>
<line x1="507.50" y1="156.83" x2="511.10" y2="156.83" stroke="#4a4a4a" stroke-width="1"/>
<text x="496.90" y="160.48" font-size="10.6" text-anchor="end" fill="#262626" textLength="16.30" lengthAdjust="spacingAndGlyphs">0.6</text>
<line x1="507.50" y1="140.94" x2="511.10" y2="140.94" stroke="#4a4a4a" stroke-width="1"/>
<text x="496.90" y="144.59" font-size="10.6" text-anchor="end" fill="#262626" textLength="16.30" lengthAdjust="spacingAndGlyphs">0.8</text>
<line x1="507.50" y1="125.05" x2="511.10" y2="125.05" stroke="#4a4a4a" stroke-width="1"/>
<text x="496.90" y="128.70" font-size="10.6" text-anchor="end" fill="#262626" textLength="16.30" lengthAdjust="spacingAndGlyphs">1.0</text>
<line x1="507.50" y1="109.16" x2="511.10" y2="109.16" stroke="#4a4a4a" stroke-width="1"/>
<text x="496.90" y="112.81" font-size="10.6" text-anchor="end" fill="#262626" textLength="16.30" lengthAdjust="spacingAndGlyphs">1.2</text>
<line x1="507.50" y1="93.27" x2="511.10" y2="93.27" stroke="#4a4a4a" stroke-width="1"/>
<text x="496.90" y="96.92" font-size="10.6" text-anchor="end" fill="#262626" textLength="16.30" lengthAdjust="spacingAndGlyphs">1.4</text>
<line x1="507.50" y1="77.38" x2="511.10" y2="77.38" stroke="#4a4a4a" stroke-width="1"/>
<text x="496.90" y="81.03" font-size="10.6" text-anchor="end" fill="#262626" textLength="16.30" lengthAdjust="spacingAndGlyphs">1.6</text>
<line x1="507.50" y1="61.49" x2="511.10" y2="61.49" stroke="#4a4a4a" stroke-width="1"/>
<text x="496.90" y="65.14" font-size="10.6" text-anchor="end" fill="#262626" textLength="16.30" lengthAdjust="spacingAndGlyphs">1.8</text>
<line x1="507.50" y1="45.60" x2="511.10" y2="45.60" stroke="#4a4a4a" stroke-width="1"/>
<text x="496.90" y="49.25" font-size="10.6" text-anchor="end" fill="#262626" textLength="16.30" lengthAdjust="spacingAndGlyphs">2.0</text>
<line x1="560.90" y1="204.50" x2="560.90" y2="201.00" stroke="#4a4a4a" stroke-width="1"/>
<line x1="614.30" y1="204.50" x2="614.30" y2="201.00" stroke="#4a4a4a" stroke-width="1"/>
<line x1="667.70" y1="204.50" x2="667.70" y2="201.00" stroke="#4a4a4a" stroke-width="1"/>
<text x="507.30" y="222.25" font-size="10.6" text-anchor="middle" fill="#262626" textLength="6.45" lengthAdjust="spacingAndGlyphs">0</text>
<text x="560.20" y="222.25" font-size="10.6" text-anchor="middle" fill="#262626" textLength="19.35" lengthAdjust="spacingAndGlyphs">500</text>
<text x="613.80" y="222.25" font-size="10.6" text-anchor="middle" fill="#262626" textLength="25.80" lengthAdjust="spacingAndGlyphs">1000</text>
<text x="667.70" y="222.25" font-size="10.6" text-anchor="middle" fill="#262626" textLength="25.80" lengthAdjust="spacingAndGlyphs">1500</text>
<text x="597.90" y="238.30" font-size="10.6" text-anchor="middle" fill="#262626" textLength="87.40" lengthAdjust="spacingAndGlyphs">Rayleigh number</text>
<text x="0" y="0" transform="translate(473.0,125.0) rotate(-90)" font-size="10.6" text-anchor="middle" fill="#262626" textLength="162" lengthAdjust="spacingAndGlyphs">Error in thermal conductivity (%)</text>
<text x="526.40" y="54.30" font-size="14" text-anchor="middle" fill="#111" font-weight="bold">c</text>
<line x1="614.40" y1="52.50" x2="614.40" y2="204.00" stroke="#333" stroke-width="1" stroke-dasharray="2.4,1.8"/>
<polygon points="508.20,157.50 512.20,164.70 504.20,164.70" fill="#e60000" stroke="#3a0000" stroke-width="0.6"/>
<polygon points="511.60,156.40 515.60,163.60 507.60,163.60" fill="#e60000" stroke="#3a0000" stroke-width="0.6"/>
<polygon points="515.70,161.10 519.70,168.30 511.70,168.30" fill="#e60000" stroke="#3a0000" stroke-width="0.6"/>
<polygon points="521.20,157.50 525.20,164.70 517.20,164.70" fill="#e60000" stroke="#3a0000" stroke-width="0.6"/>
<polygon points="527.90,161.10 531.90,168.30 523.90,168.30" fill="#e60000" stroke="#3a0000" stroke-width="0.6"/>
<polygon points="537.40,162.40 541.40,169.60 533.40,169.60" fill="#e60000" stroke="#3a0000" stroke-width="0.6"/>
<polygon points="550.70,159.00 554.70,166.20 546.70,166.20" fill="#e60000" stroke="#3a0000" stroke-width="0.6"/>
<polygon points="567.90,161.80 571.90,169.00 563.90,169.00" fill="#e60000" stroke="#3a0000" stroke-width="0.6"/>
<polygon points="584.90,156.10 588.90,163.30 580.90,163.30" fill="#e60000" stroke="#3a0000" stroke-width="0.6"/>
<polygon points="599.20,159.00 603.20,166.20 595.20,166.20" fill="#e60000" stroke="#3a0000" stroke-width="0.6"/>
<polygon points="611.10,154.90 615.10,162.10 607.10,162.10" fill="#e60000" stroke="#3a0000" stroke-width="0.6"/>
<polygon points="621.90,136.80 625.90,144.00 617.90,144.00" fill="#e60000" stroke="#3a0000" stroke-width="0.6"/>
<polygon points="635.20,112.60 639.20,119.80 631.20,119.80" fill="#e60000" stroke="#3a0000" stroke-width="0.6"/>
<polygon points="650.40,63.40 654.40,70.60 646.40,70.60" fill="#e60000" stroke="#3a0000" stroke-width="0.6"/>
<line x1="112.50" y1="259.30" x2="112.50" y2="412.30" stroke="#3c3c3c" stroke-width="1"/>
<line x1="112.50" y1="408.70" x2="296.00" y2="408.70" stroke="#6a6a6a" stroke-width="1.3"/>
<line x1="141.62" y1="404.90" x2="141.62" y2="412.50" stroke="#3c3c3c" stroke-width="1"/>
<line x1="170.73" y1="404.90" x2="170.73" y2="412.50" stroke="#3c3c3c" stroke-width="1"/>
<line x1="199.85" y1="404.90" x2="199.85" y2="412.50" stroke="#3c3c3c" stroke-width="1"/>
<line x1="228.97" y1="404.90" x2="228.97" y2="412.50" stroke="#3c3c3c" stroke-width="1"/>
<line x1="258.08" y1="404.90" x2="258.08" y2="412.50" stroke="#3c3c3c" stroke-width="1"/>
<line x1="287.20" y1="404.90" x2="287.20" y2="412.50" stroke="#3c3c3c" stroke-width="1"/>
<text x="102.40" y="412.35" font-size="10.6" text-anchor="end" fill="#262626" textLength="12.90" lengthAdjust="spacingAndGlyphs">28</text>
<text x="102.40" y="393.70" font-size="10.6" text-anchor="end" fill="#262626" textLength="12.90" lengthAdjust="spacingAndGlyphs">29</text>
<text x="102.40" y="375.05" font-size="10.6" text-anchor="end" fill="#262626" textLength="12.90" lengthAdjust="spacingAndGlyphs">30</text>
<text x="102.40" y="356.40" font-size="10.6" text-anchor="end" fill="#262626" textLength="12.90" lengthAdjust="spacingAndGlyphs">31</text>
<text x="102.40" y="337.75" font-size="10.6" text-anchor="end" fill="#262626" textLength="12.90" lengthAdjust="spacingAndGlyphs">32</text>
<text x="102.40" y="319.10" font-size="10.6" text-anchor="end" fill="#262626" textLength="12.90" lengthAdjust="spacingAndGlyphs">33</text>
<text x="102.40" y="300.45" font-size="10.6" text-anchor="end" fill="#262626" textLength="12.90" lengthAdjust="spacingAndGlyphs">34</text>
<text x="102.40" y="281.80" font-size="10.6" text-anchor="end" fill="#262626" textLength="12.90" lengthAdjust="spacingAndGlyphs">35</text>
<text x="102.40" y="263.15" font-size="10.6" text-anchor="end" fill="#262626" textLength="12.90" lengthAdjust="spacingAndGlyphs">36</text>
<text x="112.50" y="426.95" font-size="10.6" text-anchor="middle" fill="#262626" textLength="6.45" lengthAdjust="spacingAndGlyphs">0</text>
<text x="141.62" y="426.95" font-size="10.6" text-anchor="middle" fill="#262626" textLength="19.35" lengthAdjust="spacingAndGlyphs">150</text>
<text x="170.73" y="426.95" font-size="10.6" text-anchor="middle" fill="#262626" textLength="19.35" lengthAdjust="spacingAndGlyphs">300</text>
<text x="199.85" y="426.95" font-size="10.6" text-anchor="middle" fill="#262626" textLength="19.35" lengthAdjust="spacingAndGlyphs">450</text>
<text x="228.97" y="426.95" font-size="10.6" text-anchor="middle" fill="#262626" textLength="19.35" lengthAdjust="spacingAndGlyphs">600</text>
<text x="258.08" y="426.95" font-size="10.6" text-anchor="middle" fill="#262626" textLength="19.35" lengthAdjust="spacingAndGlyphs">750</text>
<text x="287.20" y="426.95" font-size="10.6" text-anchor="middle" fill="#262626" textLength="19.35" lengthAdjust="spacingAndGlyphs">900</text>
<text x="215.30" y="444.80" font-size="10.6" text-anchor="middle" fill="#262626" textLength="142.00" lengthAdjust="spacingAndGlyphs">Liquid layer thickness (μm)</text>
<text x="0" y="0" transform="translate(82.4,340.0) rotate(-90)" font-size="10.6" text-anchor="middle" fill="#262626" textLength="128.3" lengthAdjust="spacingAndGlyphs">Heater temperature (°C)</text>
<text x="123.60" y="249.80" font-size="14" text-anchor="middle" fill="#111" font-weight="bold">d</text>
<line x1="172.30" y1="340.99" x2="258.00" y2="263.10" stroke="#f5c030" stroke-width="1.1" stroke-dasharray="2.6,2.2"/>
<line x1="172.30" y1="349.63" x2="258.00" y2="272.42" stroke="#9a60d0" stroke-width="1.1" stroke-dasharray="2.6,2.2"/>
<line x1="172.30" y1="358.12" x2="258.00" y2="280.47" stroke="#ff3b3b" stroke-width="1.1" stroke-dasharray="2.6,2.2"/>
<line x1="172.30" y1="366.50" x2="258.00" y2="289.20" stroke="#5a9e4e" stroke-width="1.1" stroke-dasharray="2.6,2.2"/>
<line x1="172.30" y1="374.99" x2="258.00" y2="297.96" stroke="#3d8fe0" stroke-width="1.1" stroke-dasharray="2.6,2.2"/>
<line x1="172.30" y1="384.19" x2="258.00" y2="306.60" stroke="#e0874a" stroke-width="1.1" stroke-dasharray="2.6,2.2"/>
<line x1="172.30" y1="392.72" x2="258.00" y2="315.63" stroke="#35c46a" stroke-width="1.1" stroke-dasharray="2.6,2.2"/>
<line x1="145.00" y1="329.20" x2="180.50" y2="329.20" stroke="#2a2a2a" stroke-width="1.2"/>
<polygon points="186.00,329.20 179.00,330.95 179.00,327.45" fill="#111" stroke="none" stroke-width="0.6"/>
<line x1="145.00" y1="337.60" x2="180.50" y2="337.60" stroke="#2a2a2a" stroke-width="1.2"/>
<polygon points="186.00,337.60 179.00,339.35 179.00,335.85" fill="#111" stroke="none" stroke-width="0.6"/>
<line x1="145.00" y1="346.60" x2="180.50" y2="346.60" stroke="#2a2a2a" stroke-width="1.2"/>
<polygon points="186.00,346.60 179.00,348.35 179.00,344.85" fill="#111" stroke="none" stroke-width="0.6"/>
<line x1="145.00" y1="354.60" x2="180.50" y2="354.60" stroke="#2a2a2a" stroke-width="1.2"/>
<polygon points="186.00,354.60 179.00,356.35 179.00,352.85" fill="#111" stroke="none" stroke-width="0.6"/>
<line x1="145.00" y1="362.70" x2="180.50" y2="362.70" stroke="#2a2a2a" stroke-width="1.2"/>
<polygon points="186.00,362.70 179.00,364.45 179.00,360.95" fill="#111" stroke="none" stroke-width="0.6"/>
<line x1="145.00" y1="371.90" x2="180.50" y2="371.90" stroke="#2a2a2a" stroke-width="1.2"/>
<polygon points="186.00,371.90 179.00,373.65 179.00,370.15" fill="#111" stroke="none" stroke-width="0.6"/>
<line x1="145.00" y1="381.00" x2="180.50" y2="381.00" stroke="#2a2a2a" stroke-width="1.2"/>
<polygon points="186.00,381.00 179.00,382.75 179.00,379.25" fill="#111" stroke="none" stroke-width="0.6"/>
<line x1="188.20" y1="328.90" x2="188.20" y2="398.00" stroke="#111" stroke-width="1.0"/>
<polygon points="188.20,404.30 186.55,397.30 189.85,397.30" fill="#111" stroke="none" stroke-width="0.6"/>
<text x="191.8" y="404.8" font-family="Liberation Serif, serif" font-style="italic" font-size="13.5" fill="#1a1a1a">δ<tspan font-size="10" dx="0.6" dy="-3.2">*</tspan></text>
<rect x="139.30" y="326.90" width="4.6" height="4.6" fill="#ffff00" stroke="#222" stroke-width="0.7"/>
<polygon points="141.60,333.90 145.10,340.50 138.10,340.50" fill="#9500b8" stroke="#222" stroke-width="0.6"/>
<path d="M139.00,346.60H144.20M141.60,344.00V349.20" stroke="#ff1f1f" stroke-width="1.4"/>
<polygon points="141.60,351.30 144.90,354.60 141.60,357.90 138.30,354.60" fill="#2e8a3c" stroke="#222" stroke-width="0.6"/>
<path d="M139.10,360.00L144.10,365.40M144.10,360.00L139.10,365.40" stroke="#2f86e0" stroke-width="1.9"/><path d="M138.60,360.10H140.10M143.10,360.10H144.60M138.60,365.30H140.10M143.10,365.30H144.60" stroke="#2f86e0" stroke-width="1"/>
<circle cx="141.60" cy="371.90" r="2.8" fill="#f2a57a" stroke="#333" stroke-width="0.6"/>
<rect x="139.50" y="378.90" width="4.2" height="4.2" fill="#00e000" stroke="#222" stroke-width="0.7"/>
<rect x="168.50" y="340.60" width="4.6" height="4.6" fill="#ffff00" stroke="#222" stroke-width="0.7"/>
<polygon points="170.80,348.10 174.30,354.70 167.30,354.70" fill="#9500b8" stroke="#222" stroke-width="0.6"/>
<path d="M168.20,360.00H173.40M170.80,357.40V362.60" stroke="#ff1f1f" stroke-width="1.4"/>
<polygon points="170.80,365.20 174.10,368.50 170.80,371.80 167.50,368.50" fill="#2e8a3c" stroke="#222" stroke-width="0.6"/>
<path d="M168.30,374.10L173.30,379.50M173.30,374.10L168.30,379.50" stroke="#2f86e0" stroke-width="1.9"/><path d="M167.80,374.20H169.30M172.30,374.20H173.80M167.80,379.40H169.30M172.30,379.40H173.80" stroke="#2f86e0" stroke-width="1"/>
<circle cx="170.80" cy="386.50" r="2.8" fill="#f2a57a" stroke="#333" stroke-width="0.6"/>
<rect x="168.70" y="392.70" width="4.2" height="4.2" fill="#00e000" stroke="#222" stroke-width="0.7"/>
<rect x="197.50" y="313.20" width="4.6" height="4.6" fill="#ffff00" stroke="#222" stroke-width="0.7"/>
<polygon points="199.80,320.10 203.30,326.70 196.30,326.70" fill="#9500b8" stroke="#222" stroke-width="0.6"/>
<path d="M197.20,332.50H202.40M199.80,329.90V335.10" stroke="#ff1f1f" stroke-width="1.4"/>
<polygon points="199.80,337.80 203.10,341.10 199.80,344.40 196.50,341.10" fill="#2e8a3c" stroke="#222" stroke-width="0.6"/>
<path d="M197.30,346.90L202.30,352.30M202.30,346.90L197.30,352.30" stroke="#2f86e0" stroke-width="1.9"/><path d="M196.80,347.00H198.30M201.30,347.00H202.80M196.80,352.20H198.30M201.30,352.20H202.80" stroke="#2f86e0" stroke-width="1"/>
<circle cx="199.80" cy="358.10" r="2.8" fill="#f2a57a" stroke="#333" stroke-width="0.6"/>
<rect x="197.70" y="364.90" width="4.2" height="4.2" fill="#00e000" stroke="#222" stroke-width="0.7"/>
<rect x="226.70" y="286.50" width="4.6" height="4.6" fill="#ffff00" stroke="#222" stroke-width="0.7"/>
<polygon points="229.00,294.50 232.50,301.10 225.50,301.10" fill="#9500b8" stroke="#222" stroke-width="0.6"/>
<path d="M226.40,306.60H231.60M229.00,304.00V309.20" stroke="#ff1f1f" stroke-width="1.4"/>
<polygon points="229.00,311.30 232.30,314.60 229.00,317.90 225.70,314.60" fill="#2e8a3c" stroke="#222" stroke-width="0.6"/>
<path d="M226.50,321.30L231.50,326.70M231.50,321.30L226.50,326.70" stroke="#2f86e0" stroke-width="1.9"/><path d="M226.00,321.40H227.50M230.50,321.40H232.00M226.00,326.60H227.50M230.50,326.60H232.00" stroke="#2f86e0" stroke-width="1"/>
<circle cx="229.00" cy="332.40" r="2.8" fill="#f2a57a" stroke="#333" stroke-width="0.6"/>
<rect x="226.90" y="339.40" width="4.2" height="4.2" fill="#00e000" stroke="#222" stroke-width="0.7"/>
<rect x="255.70" y="261.40" width="4.6" height="4.6" fill="#ffff00" stroke="#222" stroke-width="0.7"/>
<polygon points="258.00,269.30 261.50,275.90 254.50,275.90" fill="#9500b8" stroke="#222" stroke-width="0.6"/>
<path d="M255.40,280.80H260.60M258.00,278.20V283.40" stroke="#ff1f1f" stroke-width="1.4"/>
<polygon points="258.00,286.60 261.30,289.90 258.00,293.20 254.70,289.90" fill="#2e8a3c" stroke="#222" stroke-width="0.6"/>
<path d="M255.50,295.50L260.50,300.90M260.50,295.50L255.50,300.90" stroke="#2f86e0" stroke-width="1.9"/><path d="M255.00,295.60H256.50M259.50,295.60H261.00M255.00,300.80H256.50M259.50,300.80H261.00" stroke="#2f86e0" stroke-width="1"/>
<circle cx="258.00" cy="307.30" r="2.8" fill="#f2a57a" stroke="#333" stroke-width="0.6"/>
<rect x="255.90" y="314.00" width="4.2" height="4.2" fill="#00e000" stroke="#222" stroke-width="0.7"/>
<text x="270.8" y="266.4" font-family="Liberation Serif, serif" font-size="11" fill="#1a1a1a" textLength="58" lengthAdjust="spacingAndGlyphs"><tspan font-style="italic">δ</tspan><tspan font-style="italic" font-size="8" dy="2.5">p</tspan><tspan dy="-2.5"> = 100 μm</tspan></text>
<text x="270.8" y="317.2" font-family="Liberation Serif, serif" font-size="11" fill="#1a1a1a" textLength="52" lengthAdjust="spacingAndGlyphs"><tspan font-style="italic">δ</tspan><tspan font-style="italic" font-size="8" dy="2.5">p</tspan><tspan dy="-2.5"> = 40 μm</tspan></text>
<line x1="273.40" y1="297.70" x2="273.40" y2="279.20" stroke="#111" stroke-width="1"/>
<polygon points="273.40,275.20 275.10,280.20 271.70,280.20" fill="#111" stroke="none" stroke-width="0.6"/>
<rect x="267.5" y="388.0" width="91" height="6.5" fill="#ff5a6a" opacity="0.6" filter="url(#glow)"/>
<path d="M269.5,340.4 C278,337.6 292,337.8 304,342.6 C314,346 330,343 356.7,340.8 L356.7,360.4 L269.5,360.4 Z" fill="#eda985" stroke="#9a8a80" stroke-width="0.5"/>
<rect x="269.5" y="360.4" width="87.2" height="18.7" fill="#c1e4f3" stroke="#9aaab0" stroke-width="0.5"/>
<rect x="269.5" y="379.1" width="87.2" height="10.8" fill="#ffc000" stroke="#a08a40" stroke-width="0.5"/>
<rect x="269.5" y="389.6" width="87.2" height="2.6" fill="#e31c1c"/>
<text x="313.10" y="352.80" font-size="8.2" text-anchor="middle" fill="#333" textLength="25.70" lengthAdjust="spacingAndGlyphs">Copper</text>
<text x="313.10" y="372.70" font-size="8.2" text-anchor="middle" fill="#333" textLength="16.80" lengthAdjust="spacingAndGlyphs">Fluid</text>
<text x="313.00" y="388.00" font-size="8.2" text-anchor="middle" fill="#222" textLength="57.30" lengthAdjust="spacingAndGlyphs">Insulating layer</text>
<text x="306.30" y="407.20" font-size="8.2" text-anchor="middle" fill="#333" textLength="24.90" lengthAdjust="spacingAndGlyphs">Heater</text>
<line x1="304.30" y1="401.20" x2="308.47" y2="396.12" stroke="#111" stroke-width="0.9"/>
<polygon points="310.30,393.90 309.10,397.57 306.93,395.79" fill="#111" stroke="none" stroke-width="0.6"/>
<line x1="356.80" y1="360.30" x2="369.30" y2="360.30" stroke="#888" stroke-width="0.8" stroke-dasharray="1.6,1.6"/>
<line x1="356.80" y1="379.10" x2="369.30" y2="379.10" stroke="#888" stroke-width="0.8" stroke-dasharray="1.6,1.6"/>
<line x1="356.80" y1="390.40" x2="369.30" y2="390.40" stroke="#888" stroke-width="0.8" stroke-dasharray="1.6,1.6"/>
<line x1="362.50" y1="363.48" x2="362.50" y2="375.92" stroke="#111" stroke-width="1"/>
<polygon points="362.50,378.80 361.00,375.20 364.00,375.20" fill="#111" stroke="none" stroke-width="0.6"/>
<polygon points="362.50,360.60 364.00,364.20 361.00,364.20" fill="#111" stroke="none" stroke-width="0.6"/>
<line x1="362.50" y1="381.96" x2="362.50" y2="387.54" stroke="#111" stroke-width="1"/>
<polygon points="362.50,390.10 361.00,386.90 364.00,386.90" fill="#111" stroke="none" stroke-width="0.6"/>
<polygon points="362.50,379.40 364.00,382.60 361.00,382.60" fill="#111" stroke="none" stroke-width="0.6"/>
<text x="370.9" y="373.0" font-family="Liberation Serif, serif" font-style="italic" font-size="10.5" text-anchor="middle" fill="#1a1a1a">δ</text>
<text x="368.0" y="387.6" font-family="Liberation Serif, serif" font-style="italic" font-size="10.5" fill="#1a1a1a">δ<tspan font-size="7.5" dy="2">p</tspan></text>
<line x1="447.50" y1="262.60" x2="447.50" y2="419.60" stroke="#5a5a5a" stroke-width="1.1"/>
<line x1="447.50" y1="338.50" x2="600.40" y2="338.50" stroke="#4a4a4a" stroke-width="1"/>
<line x1="479.27" y1="334.90" x2="479.27" y2="341.80" stroke="#5a5a5a" stroke-width="1.1"/>
<line x1="511.05" y1="334.90" x2="511.05" y2="341.80" stroke="#5a5a5a" stroke-width="1.1"/>
<line x1="542.83" y1="334.90" x2="542.83" y2="341.80" stroke="#5a5a5a" stroke-width="1.1"/>
<line x1="574.60" y1="334.90" x2="574.60" y2="341.80" stroke="#5a5a5a" stroke-width="1.1"/>
<text x="436.80" y="266.67" font-size="10.6" text-anchor="end" fill="#262626" textLength="16.30" lengthAdjust="spacingAndGlyphs">1.2</text>
<text x="436.80" y="298.12" font-size="10.6" text-anchor="end" fill="#262626" textLength="16.30" lengthAdjust="spacingAndGlyphs">0.7</text>
<text x="436.80" y="329.57" font-size="10.6" text-anchor="end" fill="#262626" textLength="16.30" lengthAdjust="spacingAndGlyphs">0.2</text>
<text x="436.80" y="361.02" font-size="10.6" text-anchor="end" fill="#262626" textLength="20.30" lengthAdjust="spacingAndGlyphs">-0.3</text>
<text x="436.80" y="392.47" font-size="10.6" text-anchor="end" fill="#262626" textLength="20.30" lengthAdjust="spacingAndGlyphs">-0.8</text>
<text x="436.80" y="423.92" font-size="10.6" text-anchor="end" fill="#262626" textLength="20.30" lengthAdjust="spacingAndGlyphs">-1.3</text>
<text x="447.50" y="355.85" font-size="10.6" text-anchor="middle" fill="#262626" textLength="6.45" lengthAdjust="spacingAndGlyphs">0</text>
<text x="479.27" y="355.85" font-size="10.6" text-anchor="middle" fill="#262626" textLength="12.90" lengthAdjust="spacingAndGlyphs">25</text>
<text x="511.05" y="355.85" font-size="10.6" text-anchor="middle" fill="#262626" textLength="12.90" lengthAdjust="spacingAndGlyphs">50</text>
<text x="542.83" y="355.85" font-size="10.6" text-anchor="middle" fill="#262626" textLength="12.90" lengthAdjust="spacingAndGlyphs">75</text>
<text x="574.60" y="355.85" font-size="10.6" text-anchor="middle" fill="#262626" textLength="19.35" lengthAdjust="spacingAndGlyphs">100</text>
<text x="527.10" y="442.60" font-size="10.6" text-anchor="middle" fill="#262626" textLength="163.60" lengthAdjust="spacingAndGlyphs">Insulating layer thickness (μm)</text>
<text x="0" y="0" transform="translate(407.1,348.4) rotate(-90)" font-size="10.6" text-anchor="middle" fill="#262626" textLength="173.4" lengthAdjust="spacingAndGlyphs">Error (%) in thermal conductivity</text>
<text x="466.20" y="252.50" font-size="14" text-anchor="middle" fill="#111" font-weight="bold">e</text>
<polyline points="453.5,325.3 460.0,326.5 466.0,328.2 472.5,329.1 479.1,329.1 485.5,331.7 491.6,336.0 498.2,342.5 504.6,355.1 510.8,356.0 517.3,360.3 523.9,367.2 530.3,378.7 536.4,383.4 543.0,379.9 549.4,371.7 555.7,364.3 562.1,359.1 568.5,353.0 574.8,347.4" fill="none" stroke="#111" stroke-width="1.1"/>
<rect x="451.10" y="322.90" width="4.8" height="4.8" fill="#12e012" stroke="#1a1a1a" stroke-width="0.7"/>
<rect x="457.60" y="324.10" width="4.8" height="4.8" fill="#12e012" stroke="#1a1a1a" stroke-width="0.7"/>
<rect x="463.60" y="325.80" width="4.8" height="4.8" fill="#12e012" stroke="#1a1a1a" stroke-width="0.7"/>
<rect x="470.10" y="326.70" width="4.8" height="4.8" fill="#12e012" stroke="#1a1a1a" stroke-width="0.7"/>
<rect x="476.70" y="326.70" width="4.8" height="4.8" fill="#12e012" stroke="#1a1a1a" stroke-width="0.7"/>
<rect x="483.10" y="329.30" width="4.8" height="4.8" fill="#12e012" stroke="#1a1a1a" stroke-width="0.7"/>
<rect x="489.20" y="333.60" width="4.8" height="4.8" fill="#12e012" stroke="#1a1a1a" stroke-width="0.7"/>
<rect x="495.80" y="340.10" width="4.8" height="4.8" fill="#12e012" stroke="#1a1a1a" stroke-width="0.7"/>
<rect x="502.20" y="352.70" width="4.8" height="4.8" fill="#12e012" stroke="#1a1a1a" stroke-width="0.7"/>
<rect x="508.40" y="353.60" width="4.8" height="4.8" fill="#12e012" stroke="#1a1a1a" stroke-width="0.7"/>
<rect x="514.90" y="357.90" width="4.8" height="4.8" fill="#12e012" stroke="#1a1a1a" stroke-width="0.7"/>
<rect x="521.50" y="364.80" width="4.8" height="4.8" fill="#12e012" stroke="#1a1a1a" stroke-width="0.7"/>
<rect x="527.90" y="376.30" width="4.8" height="4.8" fill="#12e012" stroke="#1a1a1a" stroke-width="0.7"/>
<rect x="534.00" y="381.00" width="4.8" height="4.8" fill="#12e012" stroke="#1a1a1a" stroke-width="0.7"/>
<rect x="540.60" y="377.50" width="4.8" height="4.8" fill="#12e012" stroke="#1a1a1a" stroke-width="0.7"/>
<rect x="547.00" y="369.30" width="4.8" height="4.8" fill="#12e012" stroke="#1a1a1a" stroke-width="0.7"/>
<rect x="553.30" y="361.90" width="4.8" height="4.8" fill="#12e012" stroke="#1a1a1a" stroke-width="0.7"/>
<rect x="559.70" y="356.70" width="4.8" height="4.8" fill="#12e012" stroke="#1a1a1a" stroke-width="0.7"/>
<rect x="566.10" y="350.60" width="4.8" height="4.8" fill="#12e012" stroke="#1a1a1a" stroke-width="0.7"/>
<rect x="572.40" y="345.00" width="4.8" height="4.8" fill="#12e012" stroke="#1a1a1a" stroke-width="0.7"/>
</svg></body></html>
